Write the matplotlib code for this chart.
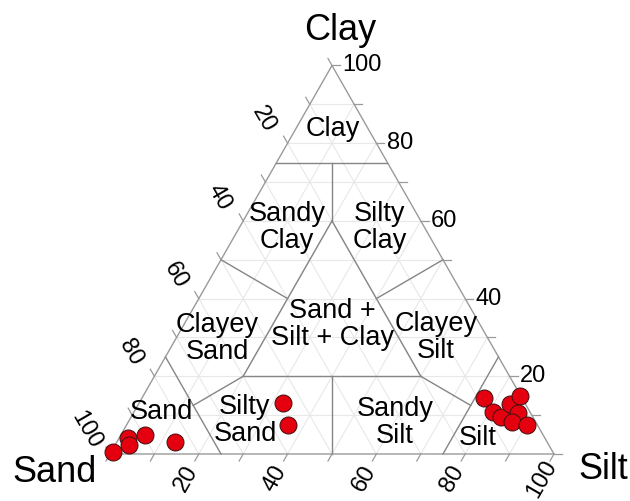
import numpy as np
import matplotlib
matplotlib.use("Agg")
import matplotlib.pyplot as plt

plt.rcParams['font.family'] = ['Liberation Sans', 'DejaVu Sans']

# Sample grain-size composition (percent)
sand = [99.1, 93.9, 94.6, 89.7, 83.8, 54.5, 56.1, 8.6, 8.3, 7.2, 3.4, 0.2, 2.8, 5.4, 2.3]
silt = [0.4, 2.0, 3.1, 5.4, 13.1, 32.4, 36.4, 77.0, 80.9, 83.3, 83.7, 84.9, 86.6, 86.4, 90.2]
clay = [0.5, 4.1, 2.3, 4.9, 3.1, 13.1, 7.5, 14.4, 10.8, 9.5, 12.9, 14.9, 10.6, 8.2, 7.5]

# Shepard classification fields
region_names = ["Clay", "Sandy\nClay", "Silty\nClay", "Clayey\nSand", "Sand +\nSilt + Clay",
                "Clayey\nSilt", "Sand", "Silty\nSand", "Sandy\nSilt", "Silt"]
region_xy = [(50.2, 83.7), (39.9, 58.2), (60.8, 58.2), (24.1, 29.6), (50.2, 33.3),
             (73.4, 29.9), (11.5, 10.8), (30.4, 8.5), (64.2, 8.2), (82.9, 4.1)]

# Field boundaries as (sand, silt, clay) end points
boundaries = [
    ((25, 0, 75), (0, 25, 75)),
    ((75, 0, 25), (75, 25, 0)),
    ((0, 75, 25), (25, 75, 0)),
    ((20, 20, 60), (60, 20, 20)),
    ((60, 20, 20), (20, 60, 20)),
    ((20, 60, 20), (20, 20, 60)),
    ((12.5, 12.5, 75), (20, 20, 60)),
    ((75, 12.5, 12.5), (60, 20, 20)),
    ((12.5, 75, 12.5), (20, 60, 20)),
    ((50, 0, 50), (40, 20, 40)),
    ((0, 50, 50), (20, 40, 40)),
    ((50, 50, 0), (40, 40, 20)),
]

tick_values = [0, 10, 20, 30, 40, 50, 60, 70, 80, 90, 100]
tick_labels = ["20", "40", "60", "80", "100"]
corner_names = ["Sand", "Silt", "Clay"]


def to_xy(sa, si, cl):
    tot = sa + si + cl
    si = 100.0 * si / tot
    cl = 100.0 * cl / tot
    return si + cl / 2.0, cl


fig = plt.figure(figsize=(6.30, 5.01), dpi=100)
ax = fig.add_axes([0, 0, 1, 1])
ax.set_xlim(-24.77, 117.12)
ax.set_ylim(-12.10, 116.86)
ax.axis("off")

grid_c = "#e8e8e8"
line_c = "#858585"
edge_c = "#9a9a9a"

# light 10 % grid
for v in range(10, 100, 10):
    for a, b in [((100 - v, 0, v), (0, 100 - v, v)),
                 ((v, 0, 100 - v), (v, 100 - v, 0)),
                 ((0, v, 100 - v), (100 - v, v, 0))]:
        (x1, y1), (x2, y2) = to_xy(*a), to_xy(*b)
        ax.plot([x1, x2], [y1, y2], color=grid_c, lw=0.8, zorder=1)

# outer triangle
corners = [to_xy(100, 0, 0), to_xy(0, 100, 0), to_xy(0, 0, 100), to_xy(100, 0, 0)]
ax.plot([c[0] for c in corners], [c[1] for c in corners], color=edge_c, lw=1.0, zorder=2)

# classification boundaries
for a, b in boundaries:
    (x1, y1), (x2, y2) = to_xy(*a), to_xy(*b)
    ax.plot([x1, x2], [y1, y2], color=line_c, lw=1.0, zorder=2)

# ticks
L = 1.8
for v in tick_values:
    # clay axis (right edge)
    x, y = to_xy(0, 100 - v, v)
    ax.plot([x, x + L], [y, y], color=edge_c, lw=0.9, zorder=2)
    # sand axis (left edge)
    x, y = to_xy(v, 0, 100 - v)
    ax.plot([x, x - 0.5 * L], [y, y + L], color=edge_c, lw=0.9, zorder=2)
    # silt axis (bottom edge)
    x, y = to_xy(100 - v, v, 0)
    ax.plot([x, x - 0.5 * L], [y, y - L], color=edge_c, lw=0.9, zorder=2)

# tick labels
for lab in tick_labels:
    v = float(lab)
    x, y = to_xy(0, 100 - v, v)
    ax.annotate(lab, (x, y), xytext=(7.5, 0), textcoords="offset points",
                ha="left", va="center", fontsize=17)
    x, y = to_xy(v, 0, 100 - v)
    ax.annotate(lab, (x, y), xytext=(-17, 17), textcoords="offset points",
                ha="center", va="center", rotation=-60, fontsize=17)
    x, y = to_xy(100 - v, v, 0)
    ax.annotate(lab, (x, y), xytext=(-9, -18), textcoords="offset points",
                ha="center", va="center", rotation=60, fontsize=17)

# corner titles
ax.annotate(corner_names[2], to_xy(0, 0, 100), xytext=(6, 25), textcoords="offset points",
            ha="center", va="center", fontsize=26)
ax.annotate(corner_names[0], to_xy(100, 0, 0), xytext=(-40, -13), textcoords="offset points",
            ha="center", va="center", fontsize=26)
ax.annotate(corner_names[1], to_xy(0, 100, 0), xytext=(35.5, -11), textcoords="offset points",
            ha="center", va="center", fontsize=26)

# field names
for name, (x, y) in zip(region_names, region_xy):
    ax.text(x, y, name, ha="center", va="center", fontsize=19.5, linespacing=1.05, zorder=3)

# samples
px, py = zip(*[to_xy(a, b, c) for a, b, c in zip(sand, silt, clay)])
ax.scatter(px, py, s=150, c="#e5000f", edgecolors="#3a1010", linewidths=0.7, zorder=5)

fig.savefig("out.png", dpi=100)
